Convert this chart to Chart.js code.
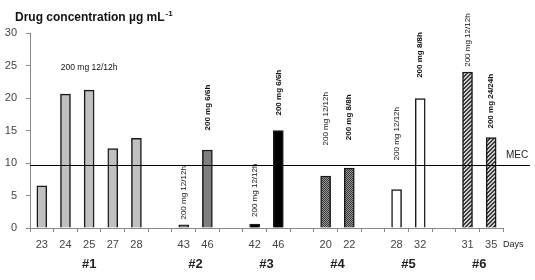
<!DOCTYPE html>
<html>
<head>
<meta charset="utf-8">
<script src="https://cdn.jsdelivr.net/npm/chart.js@4.4.1/dist/chart.umd.min.js"></script>
<style>
  html, body { margin: 0; padding: 0; background: #fff; }
  #wrap { width: 535px; height: 280px; position: relative; }
</style>
</head>
<body>
<div id="wrap"><canvas id="c" width="535" height="280"></canvas></div>
<script>
// ---- Data ----
const dayLabels = ['23','24','25','27','28','','43','46','','42','46','','20','22','','28','32','','31','35'];
const concentrations = [6.5, 20.6, 21.2, 12.2, 13.8, null, 0.5, 12.0, null, 0.6, 15.0, null, 8.0, 9.2, null, 5.9, 19.9, null, 24.0, 13.9];
const patientOfDay = [0,0,0,0,0,null,1,1,null,2,2,null,3,3,null,4,4,null,5,5];
const patientLabels = ['#1','#2','#3','#4','#5','#6'];
const regimenText = [null,null,null,null,null,null,'200 mg 12/12h','200 mg 6/6h',null,'200 mg 12/12h','200 mg 6/6h',null,'200 mg 12/12h','200 mg 8/8h',null,'200 mg 12/12h','200 mg 8/8h',null,'200 mg 12/12h','200 mg 24/24h'];
const regimenBold = [false,false,false,false,false,false,false,true,false,false,true,false,false,true,false,false,true,false,false,true];
const regimenStartValue = [null,null,null,null,null,null,1.3,15.0,null,1.7,17.3,null,12.7,13.5,null,10.4,23.1,null,24.8,15.3];
const patient1Regimen = '200 mg 12/12h';
const patient1RegimenValue = 24.6;
const mecValue = 9.7;
const yTicks = [0,5,10,15,20,25,30];

// ---- Fills ----
function checkerPattern() {
  const c = document.createElement('canvas'); c.width = 2; c.height = 2;
  const g = c.getContext('2d');
  g.fillStyle = '#9a9a9a'; g.fillRect(0,0,2,2);
  g.fillStyle = '#353535'; g.fillRect(0,0,1,1); g.fillRect(1,1,1,1);
  return g.createPattern(c, 'repeat');
}
function diagonalPattern() {
  const c = document.createElement('canvas'); c.width = 4; c.height = 4;
  const g = c.getContext('2d');
  g.fillStyle = '#d0d0d0'; g.fillRect(0,0,4,4);
  g.fillStyle = '#3a3a3a';
  for (let i = 0; i < 4; i++) { g.fillRect(i, 3 - i, 1, 1); g.fillRect((i+1)%4, 3 - i, 1, 1); }
  return g.createPattern(c, 'repeat');
}
const patientFills = ['#c0c0c0', '#7f7f7f', '#000000', checkerPattern(), '#ffffff', diagonalPattern()];
const barFills = patientOfDay.map(p => p === null ? 'rgba(0,0,0,0)' : patientFills[p]);

const FONT = '"Liberation Sans", Arial, sans-serif';

const annotationPlugin = {
  id: 'annotations',
  afterDatasetsDraw(chart) {
    const ctx = chart.ctx;
    const xs = chart.scales.x, ys = chart.scales.y;
    const area = chart.chartArea;
    ctx.save();
    // MEC line
    const my = Math.round(ys.getPixelForValue(mecValue)) + 0.5;
    ctx.strokeStyle = '#000'; ctx.lineWidth = 1;
    ctx.beginPath(); ctx.moveTo(area.left, my); ctx.lineTo(530, my); ctx.stroke();
    ctx.fillStyle = '#222';
    ctx.font = '10px ' + FONT;
    ctx.textAlign = 'left'; ctx.textBaseline = 'bottom';
    ctx.fillText('MEC', 506, my - 5);
    // rotated regimen labels
    ctx.fillStyle = '#111';
    for (let i = 0; i < regimenText.length; i++) {
      if (!regimenText[i]) continue;
      const x = xs.getPixelForValue(i);
      const y = ys.getPixelForValue(regimenStartValue[i]);
      ctx.save();
      ctx.translate(x, y);
      ctx.rotate(-Math.PI / 2);
      ctx.font = (regimenBold[i] ? 'bold ' : '') + '8px ' + FONT;
      ctx.textAlign = 'left'; ctx.textBaseline = 'middle';
      ctx.fillText(regimenText[i], 0, 0);
      ctx.restore();
    }
    // patient 1 regimen (horizontal)
    const p1 = patientOfDay.map((p, i) => p === 0 ? i : null).filter(v => v !== null);
    const p1x = (xs.getPixelForValue(p1[0]) + xs.getPixelForValue(p1[p1.length - 1])) / 2;
    ctx.font = '8.5px ' + FONT;
    ctx.textAlign = 'center'; ctx.textBaseline = 'middle';
    ctx.fillText(patient1Regimen, p1x, ys.getPixelForValue(patient1RegimenValue));
    // patient group labels
    ctx.font = 'bold 13px ' + FONT;
    ctx.fillStyle = '#222';
    patientLabels.forEach((lab, p) => {
      const idx = patientOfDay.map((q, i) => q === p ? i : null).filter(v => v !== null);
      const cx = (xs.getPixelForValue(idx[0]) + xs.getPixelForValue(idx[idx.length - 1])) / 2;
      ctx.fillText(lab, cx, 264);
    });
    // Days
    ctx.font = '9px ' + FONT;
    ctx.textAlign = 'left';
    ctx.fillText('Days', 503, 245);
    // Title
    ctx.fillStyle = '#111';
    ctx.font = 'bold 12px ' + FONT;
    ctx.textBaseline = 'alphabetic';
    const t = 'Drug concentration \u00b5g mL';
    ctx.fillText(t, 15, 21);
    const w = ctx.measureText(t).width;
    ctx.font = 'bold 8px ' + FONT;
    ctx.fillText('-1', 15 + w + 1, 16);
    ctx.restore();
  }
};

new Chart(document.getElementById('c'), {
  type: 'bar',
  data: {
    labels: dayLabels,
    datasets: [{
      data: concentrations,
      backgroundColor: barFills,
      borderColor: '#1a1a1a',
      borderWidth: 1.5,
      barThickness: 10
    }]
  },
  options: {
    responsive: false,
    animation: false,
    layout: { padding: { top: 33, right: 32, left: 0, bottom: 0 } },
    plugins: { legend: { display: false }, tooltip: { enabled: false }, title: { display: false } },
    scales: {
      x: {
        grid: { offset: true, drawOnChartArea: false, drawTicks: true, tickLength: 4, color: '#888' },
        border: { color: '#888', width: 1 },
        ticks: { font: { size: 11, family: FONT }, color: '#444', padding: 6, maxRotation: 0, autoSkip: false },
        afterFit(s) { s.height = 52; }
      },
      y: {
        min: 0, max: 30,
        afterBuildTicks(s) { s.ticks = yTicks.map(v => ({ value: v })); },
        grid: { drawOnChartArea: false, drawTicks: true, tickLength: 4, color: '#888' },
        border: { color: '#888', width: 1 },
        ticks: { font: { size: 11, family: FONT }, color: '#444', padding: 9 },
        afterFit(s) { s.width = 30; }
      }
    }
  },
  plugins: [annotationPlugin]
});
</script>
</body>
</html>
